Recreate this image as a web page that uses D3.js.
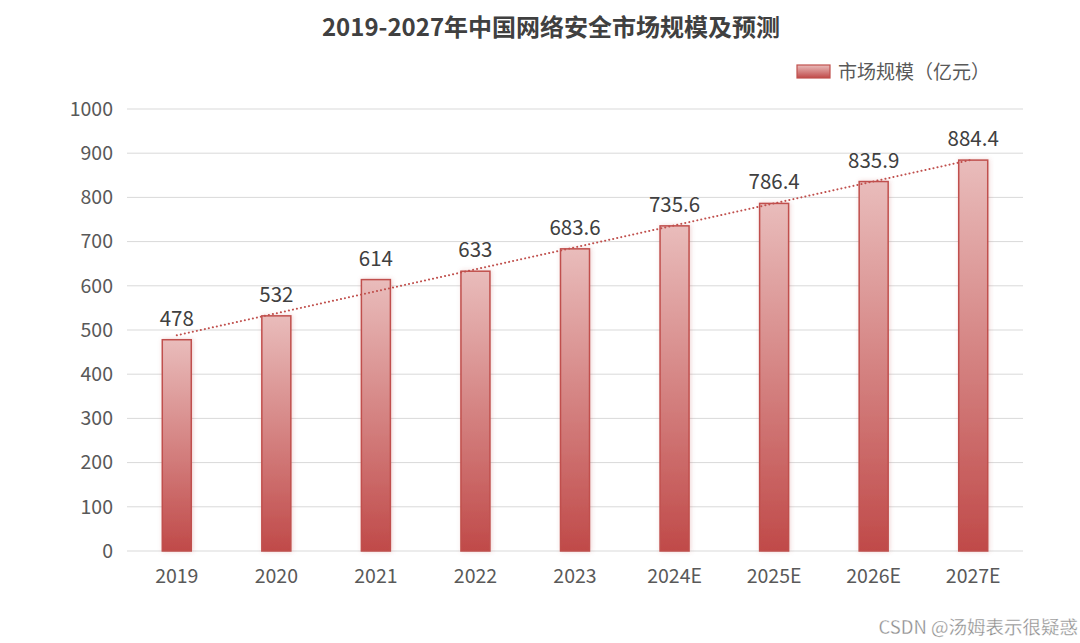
<!DOCTYPE html>
<html>
<head>
    <meta charset="utf-8">
    <title>中国网络安全市场规模</title>
    <script src="https://d3js.org/d3.v7.min.js"></script>
    <style>
        body { margin: 0; background: #fff; }
        #chart text { font-family: "Noto Sans CJK SC", "Noto Sans", sans-serif; }
    </style>
</head>
<body>
    <div id="chart"></div>
    <script>
        // Data
        const years = ["2019", "2020", "2021", "2022", "2023", "2024E", "2025E", "2026E", "2027E"];
        const marketSize = [478, 532, 614, 633, 683.6, 735.6, 786.4, 835.9, 884.4];
        const yTicks = [0, 100, 200, 300, 400, 500, 600, 700, 800, 900, 1000];

        const width = 1080, height = 643;
        const margin = { top: 109, right: 57, bottom: 92, left: 127 };

        const svg = d3.select("#chart")
            .append("svg")
            .attr("width", width)
            .attr("height", height);

        const defs = svg.append("defs");
        const grad = defs.append("linearGradient")
            .attr("id", "barGrad")
            .attr("x1", 0).attr("y1", 0).attr("x2", 0).attr("y2", 1);
        grad.append("stop").attr("offset", "0%").attr("stop-color", "#e9bcbb");
        grad.append("stop").attr("offset", "100%").attr("stop-color", "#c04a49");

        const shadow = defs.append("filter").attr("id", "shadow")
            .attr("x", "-30%").attr("y", "-5%").attr("width", "160%").attr("height", "110%");
        shadow.append("feDropShadow")
            .attr("dx", 1).attr("dy", 0).attr("stdDeviation", 2)
            .attr("flood-color", "#c0504d").attr("flood-opacity", 0.25);

        const x = d3.scaleBand()
            .domain(years)
            .range([margin.left, width - margin.right]);

        const y = d3.scaleLinear()
            .domain([0, 1000])
            .range([height - margin.bottom, margin.top]);

        // Title
        svg.append("text")
            .attr("x", 551)
            .attr("y", 36)
            .attr("text-anchor", "middle")
            .style("font-size", "24px")
            .style("font-weight", "bold")
            .style("fill", "#404040")
            .text("2019-2027年中国网络安全市场规模及预测");

        // Grid lines
        svg.append("g")
            .selectAll("line")
            .data(yTicks)
            .enter()
            .append("line")
            .attr("x1", margin.left)
            .attr("x2", width - margin.right)
            .attr("y1", d => y(d))
            .attr("y2", d => y(d))
            .style("stroke", "#d9d9d9")
            .style("stroke-width", 1);

        // Y axis labels
        const yAxis = svg.append("g")
            .attr("transform", `translate(${margin.left - 14},0)`)
            .call(d3.axisLeft(y).tickValues(yTicks).tickFormat(d3.format("d")).tickSize(0).tickPadding(0));
        yAxis.select(".domain").remove();
        yAxis.selectAll("text")
            .style("font-size", "19.5px")
            .style("fill", "#595959");

        // X axis labels
        const xAxis = svg.append("g")
            .attr("transform", `translate(0,${height - margin.bottom + 17})`)
            .call(d3.axisBottom(x).tickSize(0).tickPadding(0));
        xAxis.select(".domain").remove();
        xAxis.selectAll("text")
            .attr("dy", "0.75em")
            .style("font-size", "19.5px")
            .style("fill", "#595959");

        // Bars
        const barW = 29;
        svg.append("g")
            .selectAll("rect")
            .data(marketSize)
            .enter()
            .append("rect")
            .attr("x", (d, i) => x(years[i]) + x.bandwidth() / 2 - barW / 2)
            .attr("y", d => y(d))
            .attr("width", barW)
            .attr("height", d => y(0) - y(d))
            .attr("fill", "url(#barGrad)")
            .attr("filter", "url(#shadow)")
            .style("stroke", "#c0504d")
            .style("stroke-width", 1.5);

        // Value labels
        svg.append("g")
            .selectAll("text")
            .data(marketSize)
            .enter()
            .append("text")
            .attr("x", (d, i) => x(years[i]) + x.bandwidth() / 2)
            .attr("y", d => y(d) - 14)
            .attr("text-anchor", "middle")
            .style("font-size", "20.5px")
            .style("fill", "#404040")
            .text(d => d);

        // Linear trend line (least squares on the values)
        const n = marketSize.length;
        const mx = d3.mean(marketSize, (d, i) => i);
        const my = d3.mean(marketSize);
        const slope = d3.sum(marketSize, (d, i) => (i - mx) * (d - my)) / d3.sum(marketSize, (d, i) => (i - mx) * (i - mx));
        const intercept = my - slope * mx;
        svg.append("line")
            .attr("x1", x(years[0]) + x.bandwidth() / 2)
            .attr("y1", y(intercept))
            .attr("x2", x(years[n - 1]) + x.bandwidth() / 2)
            .attr("y2", y(intercept + slope * (n - 1)))
            .style("stroke", "#c0504d")
            .style("stroke-width", 2)
            .style("stroke-dasharray", "0.1 4")
            .style("stroke-linecap", "round");

        // Legend
        svg.append("rect")
            .attr("x", 797)
            .attr("y", 65)
            .attr("width", 33)
            .attr("height", 13)
            .attr("fill", "url(#barGrad)")
            .style("stroke", "#c0504d")
            .style("stroke-width", 1.2);
        svg.append("text")
            .attr("x", 838)
            .attr("y", 79)
            .style("font-size", "19px")
            .style("fill", "#595959")
            .text("市场规模（亿元）");

        // Watermark
        svg.append("text")
            .attr("x", 1078)
            .attr("y", 634)
            .attr("text-anchor", "end")
            .style("font-size", "18.5px")
            .style("fill", "#8c8c8c")
            .style("stroke", "#fff")
            .style("stroke-width", 0.3)
            .text("CSDN @汤姆表示很疑惑");
    </script>
</body>
</html>
